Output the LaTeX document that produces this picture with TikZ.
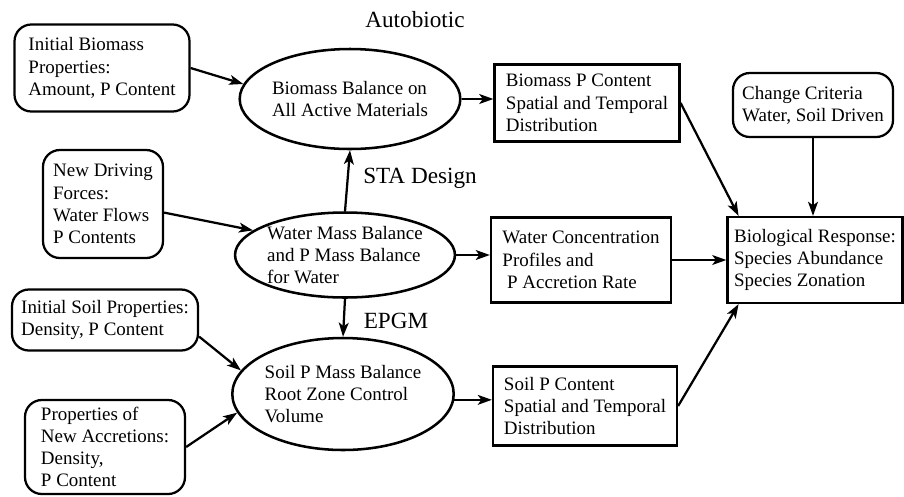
\documentclass[tikz,border=0pt]{standalone}
\usepackage{fontspec}
\setmainfont{Liberation Serif}
\usetikzlibrary{arrows.meta,shapes.geometric}
\begin{document}
\begin{tikzpicture}[
    every node/.style = {font=\fontsize{13.5}{15.8}\selectfont, align=left, inner sep=2pt},
    given/.style = {draw, line width=1.6pt, rounded corners=12pt},
    result/.style = {draw, line width=1.6pt},
    balance/.style = {draw, ellipse, line width=1.8pt, inner sep=0pt},
    tag/.style = {font=\fontsize{16.5}{18}\selectfont},
    flow/.style = {line width=1.6pt, -{Stealth[length=10pt, width=7pt, inset=2.5pt]}}
  ]
    \useasboundingbox (0, 0) rectangle (22.6, -12.4);
    % inputs
    \node[given, minimum width=4.375cm, minimum height=2.175cm] (ibio) at (2.55, -1.7) {Initial Biomass\\Properties:\\Amount, P Content};
    \node[given, minimum width=3.0cm, minimum height=2.7cm] (ndf) at (2.575, -5.1) {New Driving\\Forces:\\Water Flows\\P Contents};
    \node[given, minimum width=4.65cm, minimum height=1.525cm] (isoil) at (2.625, -8.0) {Initial Soil Properties:\\Density, P Content};
    \node[given, minimum width=4.0cm, minimum height=2.35cm] (nacc) at (2.625, -11.175) {Properties of\\New Accretions:\\Density,\\P Content};
    \node[given, minimum width=4.0cm, minimum height=1.6cm] (crit) at (20.325, -2.625) {Change Criteria\\Water, Soil Driven};
    % balances
    \node[balance, minimum width=5.25cm, minimum height=2.5cm] (bbal) at (8.75, -2.475) {Biomass Balance on\\All Active Materials};
    \node[balance, minimum width=5.3cm, minimum height=2.125cm] (wbal) at (8.625, -6.375) {Water Mass Balance\\and P Mass Balance\\for Water};
    \node[balance, minimum width=5.175cm, minimum height=2.8cm] (sbal) at (8.575, -9.85) {Soil P Mass Balance\\Root Zone Control\\Volume};
    % results
    \node[result, minimum width=4.625cm, minimum height=1.925cm] (bpc) at (14.675, -2.575) {Biomass P Content\\Spatial and Temporal\\Distribution};
    \node[result, minimum width=4.5cm, minimum height=2.125cm] (wconc) at (14.525, -6.5) {Water Concentration\\Profiles and\\\ P Accretion Rate};
    \node[result, minimum width=4.6cm, minimum height=1.975cm] (spc) at (14.625, -10.15) {Soil P Content\\Spatial and Temporal\\Distribution};
    \node[result, minimum width=4.375cm, minimum height=2.15cm] (bio) at (20.375, -6.5) {Biological Response:\\Species Abundance\\Species Zonation};
    % model names
    \node[tag] (auto) at (10.375, -0.5) {Autobiotic};
    \node[tag] (sta) at (10.5, -4.45) {STA Design};
    \node[tag] (epgm) at (9.9, -8.025) {EPGM};
    % flows
    \draw[flow] (ibio.east) -- (bbal.172);
    \draw[flow] (ndf.-8) -- (wbal.165);
    \draw[flow] (isoil.-10) -- (sbal.167);
    \draw[flow] (nacc.east) -- (sbal.190);
    \draw[flow] (wbal.north) -- (bbal.south);
    \draw[flow] (wbal.south) -- (sbal.north);
    \draw[flow] (bbal.east) -- (bbal.east -| bpc.west);
    \draw[flow] (wbal.east) -- (wbal.east -| wconc.west);
    \draw[flow] (sbal.-3) -- (sbal.-3 -| spc.west);
    \draw[flow] (bpc.east) -- (bio.150);
    \draw[flow] (wconc.east) -- (bio.west);
    \draw[flow] (spc.east) -- (bio.210);
    \draw[flow] (crit.south) -- (crit.south |- bio.north);
\end{tikzpicture}
\end{document}
